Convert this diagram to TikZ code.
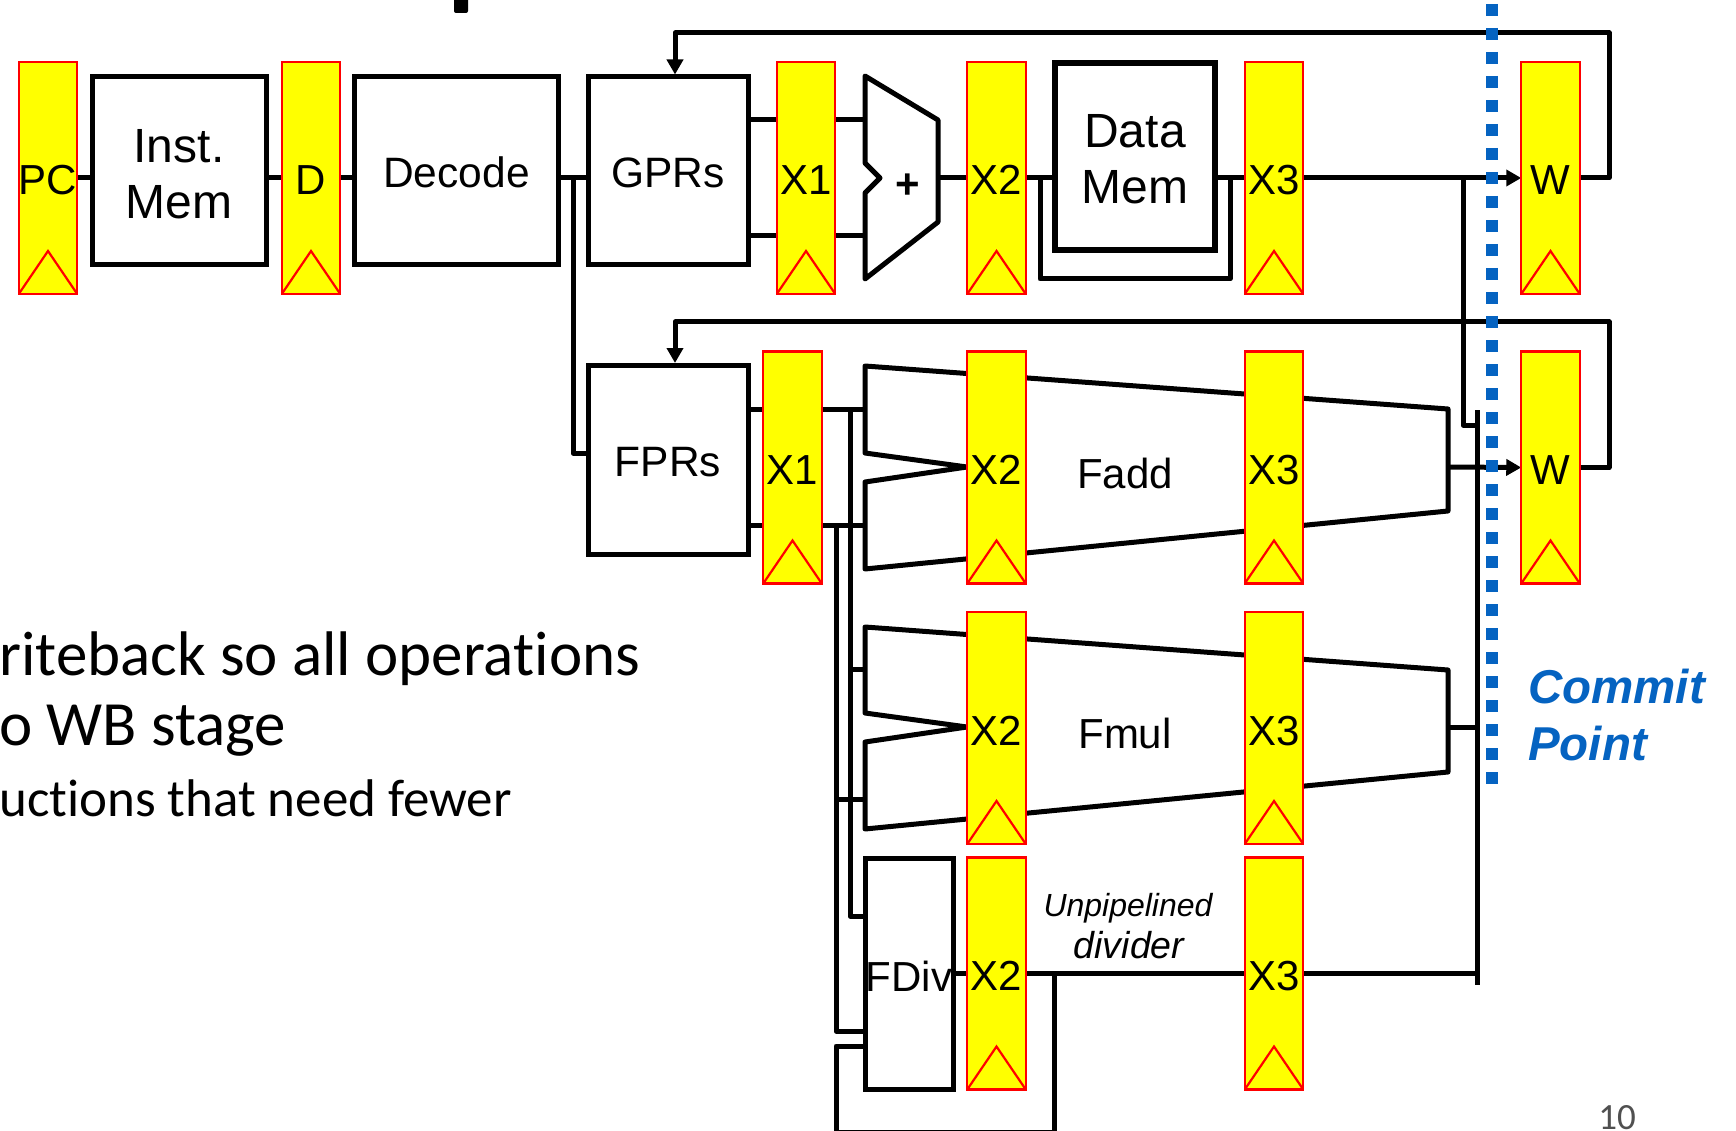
\documentclass[tikz,border=0pt]{standalone}
\usepackage{fontspec}
\setmainfont{Liberation Sans}
\newfontfamily\bodyfont[Ligatures=NoCommon]{Carlito}
\usetikzlibrary{arrows.meta,calc,backgrounds}
\definecolor{regyellow}{HTML}{FFFF00}
\definecolor{regred}{HTML}{FF0000}
\definecolor{commitblue}{HTML}{0563C1}
\definecolor{pagegray}{HTML}{505050}
\newcommand{\fs}[2]{\fontsize{#1pt}{#2pt}\selectfont}
\newcommand{\lowerstrut}{\rule{0pt}{39pt}}
\tikzset{
  x=1pt,y=-1pt,
  wire/.style={draw=black,line width=5pt,line join=round},
  arrowwire/.style={wire,-{Triangle[length=15pt,width=16pt]}},
  block/.style={draw=black,fill=white,line width=5pt,inner sep=0pt,outer sep=0pt,align=center},
  blocklabel/.style={text height=33pt,text depth=0pt,font=\fs{42.5}{50}},
  twoline/.style={font=\fs{48}{56}},
  reg/.style={draw=regred,fill=regyellow,line width=2.2pt,minimum width=58.5pt,minimum height=232pt,
    inner sep=0pt,outer sep=0pt,font=\fs{42}{50},text height=34pt,text depth=0pt,
    path picture={\draw[regred,line width=2.2pt]
      (path picture bounding box.south west) -- ++(29.25pt,43pt) -- (path picture bounding box.south east);}},
  mux/.style={draw=black,line width=5pt,line join=round},
  fulabel/.style={anchor=base,inner sep=0pt,font=\fs{42}{50}},
  commit/.style={draw=commitblue,line width=11.5pt,dash pattern=on 12pt off 12pt},
  committext/.style={anchor=base west,inner sep=0pt,text=commitblue,font=\fs{47.5}{50}\bfseries\itshape},
}
\begin{document}
\begin{tikzpicture}
\useasboundingbox (0,0) rectangle (1736,1131);

% blocks
\node[block,twoline,minimum width=174pt,minimum height=188pt] (imem) at (179,171) {\lowerstrut Inst.\\Mem};
\node[block,blocklabel,minimum width=204pt,minimum height=188pt] (decode) at (456.5,171) {Decode};
\node[block,blocklabel,minimum width=160pt,minimum height=188pt] (gprs) at (668,171) {GPRs};
\node[block,blocklabel,minimum width=160pt,minimum height=189pt] (fprs) at (668,460) {FPRs};
\node[block,twoline,line width=5.5pt,minimum width=160pt,minimum height=187pt] (dmem) at (1135,156.5) {\lowerstrut Data\\Mem};
\node[block,font=\fs{42}{50},text height=35pt,text depth=0pt,minimum width=88pt,minimum height=231pt] (fdiv) at (909,973.5) {FDiv};

% registers
\node[reg] (pc) at (48,178) {PC};
\node[reg] (d) at (311,178) {D};
\node[reg] (x1a) at (806,178) {X1};
\node[reg] (x2a) at (996.5,178) {X2};
\node[reg] (x3a) at (1274,178) {X3};
\node[reg] (wa) at (1550.5,178) {W};
\node[reg] (x1b) at (792.5,467.5) {X1};
\node[reg] (x2b) at (996.5,467.5) {X2};
\node[reg] (x3b) at (1274,467.5) {X3};
\node[reg] (wb) at (1550.5,467.5) {W};
\node[reg] (x2c) at (996.5,728) {X2};
\node[reg] (x3c) at (1274,728) {X3};
\node[reg] (x2d) at (996.5,973.5) {X2};
\node[reg] (x3d) at (1274,973.5) {X3};

% routing coordinates
\coordinate (alu-a) at (865,120);
\coordinate (alu-b) at (865,236);
\coordinate (alu-o) at (938,178);
\coordinate (fa-a) at (865,409);
\coordinate (fa-b) at (865,525);
\coordinate (fa-o) at (1448,467);
\coordinate (fm-a) at (865,669);
\coordinate (fm-b) at (865,799);
\coordinate (fm-o) at (1448,727);
\coordinate (top1) at (1609,33);
\coordinate (top1b) at (675,33);
\coordinate (top2) at (1609,322);
\coordinate (top2b) at (675,322);
\coordinate (bus-top) at (1477,410);
\coordinate (bus-bot) at (1477,985);
\coordinate (split) at (573,178);
\coordinate (split2) at (573,453);
\coordinate (lp1) at (1040,178);
\coordinate (lp1b) at (1040,279);
\coordinate (lp2) at (1230,178);
\coordinate (lp2b) at (1230,279);
\coordinate (br1) at (1463,178);
\coordinate (br2) at (1463,425);
\coordinate (v1) at (850,409);
\coordinate (v1b) at (850,916);
\coordinate (v2) at (836,525);
\coordinate (v2b) at (836,1031);
\coordinate (lp3a) at (836,1046);
\coordinate (lp3b) at (836,1132);
\coordinate (lp3c) at (1054,1132);
\coordinate (lp3d) at (1054,973);

\begin{pgfonlayer}{background}
\fill[white] (0,0) rectangle (1736,1131);
% fragment of the clipped title
\fill[black,rounded corners=2pt] (454,-6) rectangle (468,13);

% adder and functional unit outlines
\draw[mux] (865,76) -- (938,120) -- (938,222) -- (865,279) -- (865,193) -- (880,178) -- (865,163) -- cycle;
\draw[mux] (865,366) -- (1448,409) -- (1448,511) -- (865,569) -- (865,482) -- (967,467) -- (865,453) -- cycle;
\draw[mux] (865,627) -- (1448,670) -- (1448,772) -- (865,829) -- (865,742) -- (967,727) -- (865,713) -- cycle;

% front end
\draw[wire] (pc.east) -- (pc.east -| imem.west);
\draw[wire] (d.west -| imem.east) -- (d.west);
\draw[wire] (d.east) -- (d.east -| decode.west);
\draw[wire] (d.east -| decode.east) -- (d.east -| gprs.west);
\draw[wire] (split) -- (split2) -- (split2 -| fprs.west);
% integer pipe
\draw[wire] (alu-a -| gprs.east) -- (alu-a);
\draw[wire] (alu-b -| gprs.east) -- (alu-b);
\draw[wire] (alu-o) -- (x2a.west);
\draw[wire] (x2a.east) -- (x2a.east -| dmem.west);
\draw[wire] (x3a.west -| dmem.east) -- (x3a.west);
\draw[wire] (lp1) -- (lp1b) -- (lp2b) -- (lp2);
\draw[arrowwire] (x3a.east) -- (wa.west);
\draw[wire] (br1) -- (br2) -- (br2 -| bus-top);
\draw[arrowwire] (wa.east) -- (wa.east -| top1) -- (top1) -- (top1b) -- ([yshift=2.5pt]top1b |- gprs.north);
\draw[arrowwire] (wb.east) -- (wb.east -| top2) -- (top2) -- (top2b) -- ([yshift=2.5pt]top2b |- fprs.north);
% floating-point pipes
\draw[wire] (fa-a -| fprs.east) -- (fa-a);
\draw[wire] (fa-b -| fprs.east) -- (fa-b);
\draw[wire] (v1) -- (v1b) -- (v1b -| fdiv.west);
\draw[wire] (v1 |- fm-a) -- (fm-a);
\draw[wire] (v2) -- (v2b) -- (v2b -| fdiv.west);
\draw[wire] (v2 |- fm-b) -- (fm-b);
\draw[wire] (lp3a -| fdiv.west) -- (lp3a) -- (lp3b) -- (lp3c) -- (lp3d);
\draw[wire] (lp3d -| fdiv.east) -- (lp3d -| x2d.west);
\draw[wire] (lp3d -| x2d.east) -- (lp3d -| bus-top);
\draw[wire] (bus-top) -- (bus-bot);
\draw[wire] (fm-o) -- (fm-o -| bus-top);
\draw[arrowwire] (fa-o) -- (wb.west);
\end{pgfonlayer}

% labels
\node[inner sep=0pt,font=\fs{42}{42}\bfseries] (plus) at (908,186) {+};
\node[fulabel] (fadd) at (1125,488) {Fadd};
\node[fulabel] (fmul) at (1125,748) {Fmul};
\node[anchor=base,inner sep=0pt,font=\fs{32}{38}\itshape] (unp) at (1128,916) {Unpipelined};
\node[anchor=base,inner sep=0pt,font=\fs{37.5}{42}\itshape] (dvd) at (1129,958) {divider};

% commit point
\coordinate (cp-a) at (1492,4);
\coordinate (cp-b) at (1492,784);
\draw[commit] (cp-a) -- (cp-b);
\node[committext] (cp1) at (1528,703) {Commit};
\node[committext] (cp2) at (1528,760) {Point};

% body text
\node[anchor=base west,inner sep=0pt,font=\bodyfont\fs{63}{68}] (t1) at (-1,675) {riteback so all operations};
\node[anchor=base west,inner sep=0pt,font=\bodyfont\fs{63}{68}] (t2) at (-1,745) {o WB stage};
\node[anchor=base west,inner sep=0pt,font=\bodyfont\fs{53}{60}] (t3) at (-1,816) {uctions that need fewer};
\node[anchor=base,inner sep=0pt,text=pagegray,font=\bodyfont\fs{37}{37}] (pg) at (1617,1129.5) {10};
\end{tikzpicture}
\end{document}
